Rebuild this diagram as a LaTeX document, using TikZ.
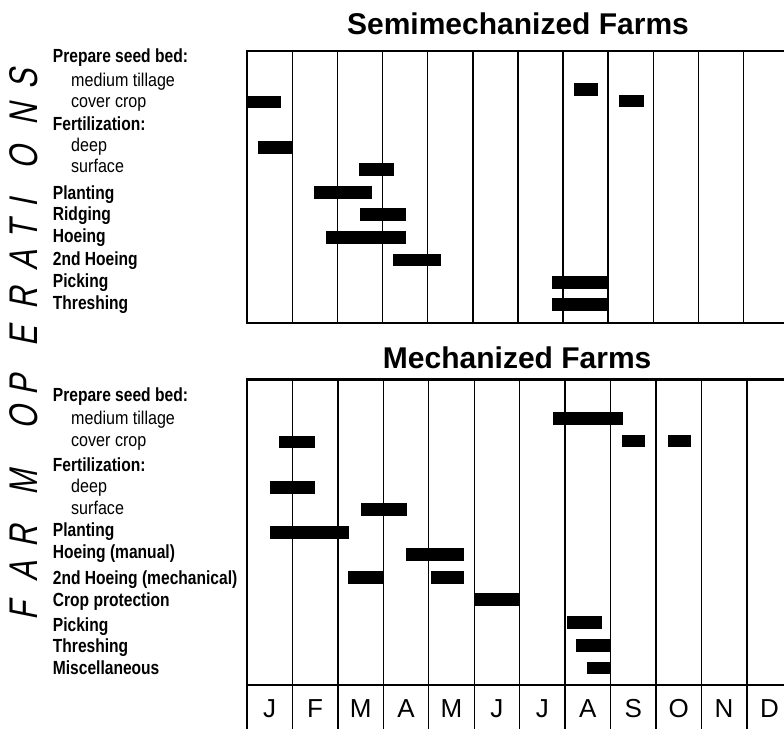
\documentclass[tikz,border=0pt]{standalone}
\usepackage{fontspec}
\setmainfont{Liberation Sans}
\newfontfamily\labfont[FakeStretch=0.82]{Liberation Sans}
\newfontfamily\subfont[FakeStretch=0.87]{Liberation Sans}
\newfontfamily\vfont[FakeStretch=0.75,FakeSlant=0.2]{Liberation Sans}
\begin{document}
\begin{tikzpicture}[x=1pt,y=-1pt,
  frameline/.style={line width=2.2pt},
  gridline/.style={line width=1.4pt},
  barbox/.style={fill=black},
  boldlab/.style={anchor=base west,inner sep=0pt,font=\labfont\bfseries\fontsize{19}{19}\selectfont},
  sublab/.style={anchor=base west,inner sep=0pt,font=\subfont\fontsize{18.5}{18.5}\selectfont},
  charttitle/.style={anchor=base,inner sep=0pt,font=\bfseries\fontsize{30}{30}\selectfont},
  monthlab/.style={anchor=base,inner sep=0pt,font=\fontsize{26}{26}\selectfont},
  vletter/.style={rotate=90,inner sep=0pt,font=\vfont\fontsize{40}{40}\selectfont}]
\useasboundingbox (0,0) rectangle (784,728);
\clip (0,0) rectangle (784,728);

% titles
\node[charttitle] (t1) at (518,34.3) {Semimechanized Farms};
\node[charttitle] (t2) at (517.2,368.7) {Mechanized Farms};

% vertical caption
\foreach \ch/\yy [count=\i] in {F/611.7,A/571.7,R/536.7,M/483.3,O/418.3,P/385,E/336.7,R/298.3,A/260,T/230.7,I/203.3,O/158.3,N/115,S/79.3}
  \node[vletter] (v\i) at (24,\yy) {\ch};

% top chart frame
\draw[frameline] (790,50.7) -- (247.3,50.7) -- (247.3,323) -- (790,323);
\foreach \k in {1,...,11}
  \draw[gridline] (247.3+45.1*\k,50.7) -- (247.3+45.1*\k,323);

% bottom chart frame
\draw[frameline] (795,379.5) -- (247,379.5) -- (247,740);
\draw[frameline] (247,685) -- (795,685);
\foreach \k in {1,...,11}
  \draw[gridline] (247+45.44*\k,379.5) -- (247+45.44*\k,740);

% months
\foreach \m [count=\i from 0] in {J,F,M,A,M,J,J,A,S,O,N,D}
  \node[monthlab] (m\i) at (247+45.44*\i+22.72,717.5) {\m};

% top bars
\foreach \xa/\ya/\xb/\yb in {247.3/95.7/280.8/107.7, 574.3/83.3/597.8/96, 619.2/95/643.5/107.3,
  257.6/141/292.3/153.7, 359.4/163/394/175.7, 313.7/186/371.8/199, 360/208.3/405.7/221,
  326.2/230.7/405.7/243.7, 393.3/253.7/441.4/266.3, 552.4/276/608.5/289, 551.7/297.7/608.5/310.7}
  \fill[barbox] (\xa,\ya) rectangle (\xb,\yb);

% bottom bars
\foreach \xa/\ya/\xb/\yb in {553.4/411.7/623.1/424.7, 279.4/435.7/315.3/448.3, 621.7/435/645.4/447.3,
  667.6/435/690.6/447.3, 270/481/315.3/494, 360.5/503.3/406.5/516.3, 270/526/349.4/539,
  405.8/548.3/463.9/561.3, 348.4/571/383.5/584, 430.5/571/463.9/584, 475.4/593.3/520/606.3,
  567.4/616/601.5/629, 576.4/638.7/610.5/651.7, 586.9/661.7/610.5/674}
  \fill[barbox] (\xa,\ya) rectangle (\xb,\yb);

% top labels
\node[boldlab] (a1) at (52.7,62.7) {Prepare seed bed:};
\node[sublab] (a2) at (71,86) {medium tillage};
\node[sublab] (a3) at (71,107.3) {cover crop};
\node[boldlab] (a4) at (52.7,130.7) {Fertilization:};
\node[sublab] (a5) at (71,151.7) {deep};
\node[sublab] (a6) at (71,172.7) {surface};
\node[boldlab] (a7) at (52.7,199) {Planting};
\node[boldlab] (a8) at (52.7,220) {Ridging};
\node[boldlab] (a9) at (52.7,242.3) {Hoeing};
\node[boldlab] (a10) at (52.7,265.7) {2nd Hoeing};
\node[boldlab] (a11) at (52.7,287.7) {Picking};
\node[boldlab] (a12) at (52.7,309.3) {Threshing};

% bottom labels
\node[boldlab] (b1) at (52.7,401.7) {Prepare seed bed:};
\node[sublab] (b2) at (71,424) {medium tillage};
\node[sublab] (b3) at (71,446) {cover crop};
\node[boldlab] (b4) at (52.7,471) {Fertilization:};
\node[sublab] (b5) at (71,492.7) {deep};
\node[sublab] (b6) at (71,514.3) {surface};
\node[boldlab] (b7) at (52.7,536) {Planting};
\node[boldlab] (b8) at (52.7,558.3) {Hoeing (manual)};
\node[boldlab] (b9) at (52.7,584.3) {2nd Hoeing (mechanical)};
\node[boldlab] (b10) at (52.7,606) {Crop protection};
\node[boldlab] (b11) at (52.7,631) {Picking};
\node[boldlab] (b12) at (52.7,652.7) {Threshing};
\node[boldlab] (b13) at (52.7,674.3) {Miscellaneous};
\end{tikzpicture}
\end{document}
